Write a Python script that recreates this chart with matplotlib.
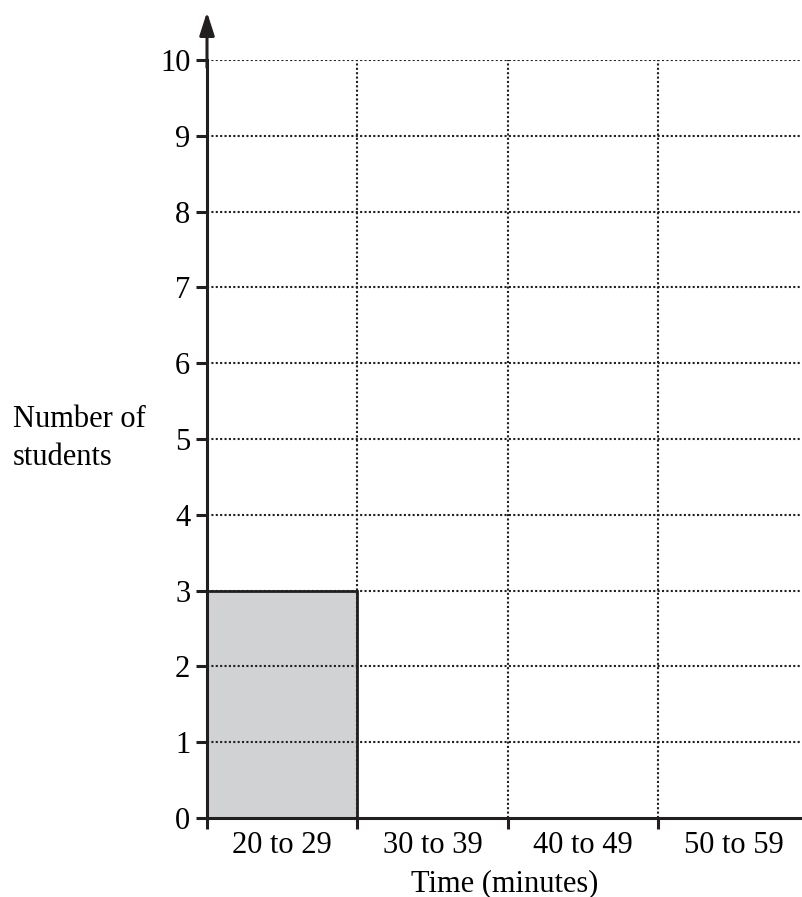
import matplotlib.pyplot as plt

# Data
categories = ['20 to 29', '30 to 39', '40 to 49', '50 to 59']
counts = [3, 0, 0, 0]
y_ticks = list(range(0, 11))

plt.rcParams['font.family'] = ['Liberation Serif', 'DejaVu Serif']

fig = plt.figure(figsize=(8.02, 8.97), dpi=100)
ax = fig.add_axes([207 / 802, 1 - 818 / 897, 1 - 207 / 802, (818 - 60) / 897])

# bars (only non-zero ones are visible)
x = [i + 0.5 for i in range(len(categories))]
for xi, c in zip(x, counts):
    if c > 0:
        ax.bar(xi, c, width=1.0, color='#d1d2d4', edgecolor='#231f20',
               linewidth=2.0, zorder=2)

ax.set_xlim(0, 3.955)
ax.set_ylim(0, 10)

# dotted grid, drawn over the bar
dots = (0, (1, 1.1))
for yv in y_ticks[1:]:
    ax.axhline(yv, color='#231f20', linestyle=dots, linewidth=1.5, zorder=3)
for xv in range(1, len(categories)):
    ax.axvline(xv, color='#231f20', linestyle=dots, linewidth=1.5, zorder=3)

for s in ['top', 'right']:
    ax.spines[s].set_visible(False)
for s in ['left', 'bottom']:
    ax.spines[s].set_linewidth(2.2)
    ax.spines[s].set_color('#231f20')
    ax.spines[s].set_zorder(4)

ax.set_yticks(y_ticks)
ax.set_yticklabels([str(v) for v in y_ticks], fontsize=22)
ax.tick_params(axis='y', length=8, width=2.2, color='#231f20', pad=4)

ax.set_xticks(x)
ax.set_xticklabels(categories, fontsize=22)
ax.set_xticks(list(range(len(categories))), minor=True)
ax.tick_params(axis='x', which='major', length=0, pad=9)
ax.tick_params(axis='x', which='minor', length=8, width=2.2, color='#231f20')

# arrow on y axis
ax.annotate('', xy=(0, 1.0633), xytext=(0, 0.99), xycoords='axes fraction',
            arrowprops=dict(arrowstyle='-|>,head_length=1.4,head_width=0.45',
                            color='#231f20', lw=2.2, shrinkA=0, shrinkB=0),
            annotation_clip=False)

fig.text(505 / 802, 1 - 891 / 897, 'Time (minutes)', fontsize=22, ha='center', va='baseline')
fig.text(13 / 802, 1 - 427 / 897, 'Number of', fontsize=22, ha='left', va='baseline')
fig.text(13 / 802, 1 - 465 / 897, 'students', fontsize=22, ha='left', va='baseline')

fig.savefig('out.png', dpi=100)
